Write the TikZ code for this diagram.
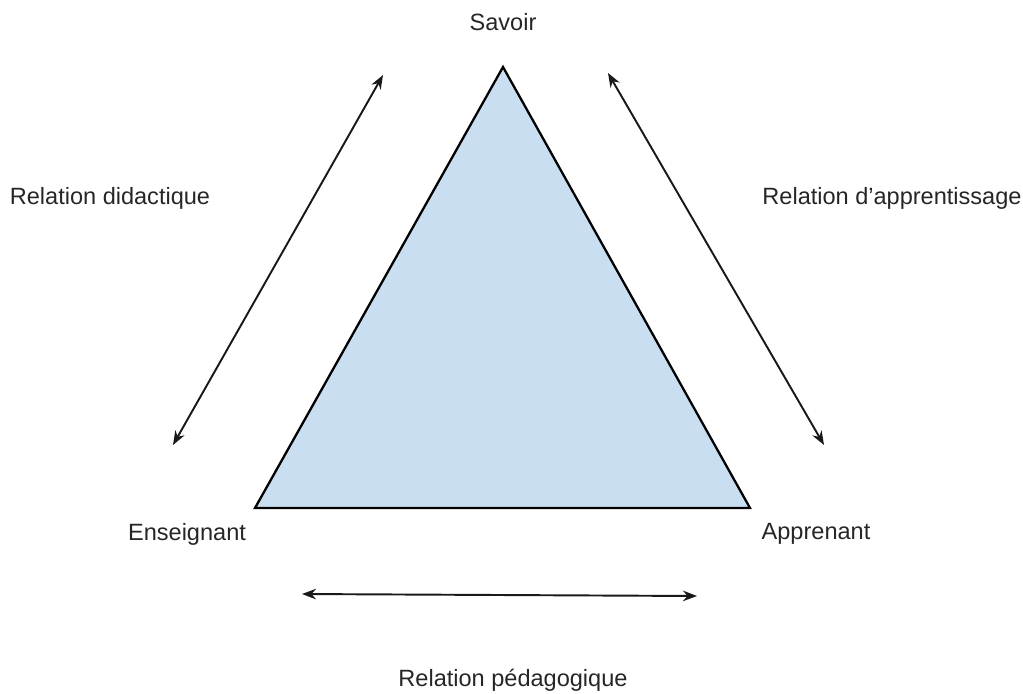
\documentclass[tikz,border=0pt]{standalone}
\usepackage{fontspec}
\setmainfont{Liberation Sans}
\usetikzlibrary{arrows.meta}
\definecolor{trifill}{RGB}{202,222,242}
\begin{document}
\begin{tikzpicture}[x=0.02cm,y=-0.02cm,
  lbl/.style={font=\fontsize{13.4}{15}\selectfont, text=black!85, inner sep=0pt},
  rel/.style={{Stealth[length=8pt,width=6pt]}-{Stealth[length=8pt,width=6pt]}, line width=1.1pt, black!90}]
\useasboundingbox (0,0) rectangle (1023,693);
\coordinate (S) at (503,67);
\coordinate (E) at (255,508);
\coordinate (A) at (750,508);
\draw[fill=trifill, line width=1.3pt, line join=miter] (S) -- (E) -- (A) -- cycle;
\node[lbl] (savoir) at (503,22) {Savoir};
\node[lbl] (rdid) at (110,198) {Relation didactique};
\node[lbl] (rapp) at (892,198) {Relation d'apprentissage};
\node[lbl] (ens) at (187,534) {Enseignant};
\node[lbl] (app) at (816,534) {Apprenant};
\node[lbl] (rped) at (513,680) {Relation pédagogique};
\coordinate (l1) at (383,75);
\coordinate (l2) at (173,445);
\coordinate (r1) at (608,73);
\coordinate (r2) at (824,445);
\coordinate (b1) at (302,594);
\coordinate (b2) at (697,596);
\draw[rel] (l1) -- (l2);
\draw[rel] (r1) -- (r2);
\draw[rel] (b1) -- (b2);
\end{tikzpicture}
\end{document}
